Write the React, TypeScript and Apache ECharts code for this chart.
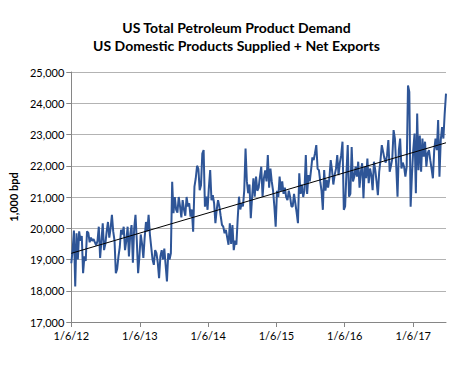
import React, { useEffect, useRef } from "react";
import * as echarts from "echarts";

const titleLines = ["US Total Petroleum Product Demand", "US Domestic Products Supplied + Net Exports"];
const yAxisName = "1,000 bpd";
const startDate = [2012, 0, 6];
const xTickDays = [0, 366, 731, 1096, 1461, 1827];
const demand = [
  18880, 19300, 19925, 18140, 19840, 19000, 19900, 19600, 19750, 18560,
  19100, 18950, 19900, 19850, 19550, 19700, 19600, 19650, 19550, 19450,
  19600, 20050, 19050, 19600, 20160, 19300, 19500, 19900, 20200, 19700,
  20000, 20430, 19900, 19600, 18560, 18700, 19100, 19400, 19950, 19800,
  20050, 19300, 19600, 20050, 19100, 19800, 20100, 18900, 20000, 20430,
  19600, 18560, 19100, 19800, 19500, 19050, 19700, 20200, 19900, 20430,
  19800, 19400, 19000, 18830, 19300, 19200, 18900, 18400, 19100, 19300,
  19000, 19350, 18830, 18300, 19200, 19000, 19200, 21490, 20480, 21000,
  20600, 20500, 21000, 20700, 20350, 20900, 20600, 20400, 21000, 20700,
  20800, 20370, 20600, 19890, 21330, 21600, 22000, 21900, 21220, 21380,
  22390, 22500, 20690, 21010, 20590, 21300, 21860, 20900, 21060, 20800,
  20160, 20600, 20900, 20700, 20400, 20110, 20050, 19840, 19950, 19700,
  19470, 20160, 19500, 20100, 19300, 19600, 19470, 20300, 21010, 20600,
  20800, 20700, 21200, 22550, 21500, 21120, 21400, 20320, 21000, 21600,
  21010, 21650, 21200, 21300, 21650, 21970, 21010, 21600, 21850, 21500,
  22340, 21300, 21910, 21500, 21200, 20700, 20050, 21200, 21000, 21650,
  21200, 21500, 21100, 21300, 21000, 20900, 21200, 21010, 20700, 20700,
  21100, 20800, 20500, 20160, 21760, 21100, 21400, 21000, 21220, 22340,
  21100, 21700, 21500, 21860, 22270, 22180, 22400, 22660, 21900, 21860,
  21500, 21200, 20590, 21860, 21200, 21550, 21300, 21600, 22180, 21860,
  21400, 21700, 21900, 22340, 21700, 22100, 22340, 22770, 20590, 20700,
  21760, 22660, 21010, 21100, 22600, 21500, 21650, 21970, 21650, 22130,
  21300, 21800, 22080, 20960, 21970, 21600, 22230, 21440, 21910, 21700,
  21220, 22130, 21860, 21500, 21060, 21800, 22180, 22660, 22450, 22230,
  22100, 22340, 22820, 21810, 22000, 22230, 23140, 22870, 22000, 21010,
  22500, 22870, 21910, 22100, 21970, 21650, 21970, 24570, 24360, 20690,
  21700, 22500, 23030, 21120, 23670, 21860, 22970, 21810, 22870, 22290,
  22770, 21970, 22400, 22500, 22180, 21900, 21600, 22500, 22870, 22500,
  23460, 21650, 22820, 23240, 22870, 23670, 24310,
];

function dayLabel(day: number): string {
  const d = new Date(startDate[0], startDate[1], startDate[2] + day);
  return `${d.getMonth() + 1}/${d.getDate()}/${String(d.getFullYear()).slice(2)}`;
}

export default function App() {
  const ref = useRef<HTMLDivElement>(null);
  useEffect(() => {
    if (!ref.current) return;
    const chart = echarts.init(ref.current, null, { renderer: "svg" });
    const pts = demand.map((v, i) => [i * 7, v]);
    const n = pts.length;
    const mx = pts.reduce((s, p) => s + p[0], 0) / n;
    const my = pts.reduce((s, p) => s + p[1], 0) / n;
    let sxy = 0, sxx = 0;
    pts.forEach((p) => { sxy += (p[0] - mx) * (p[1] - my); sxx += (p[0] - mx) ** 2; });
    const b = sxy / sxx;
    const a = my - b * mx;
    const lastDay = (n - 1) * 7;
    const font = "Lato, 'Liberation Sans', sans-serif";
    chart.setOption({
      animation: false,
      textStyle: { fontFamily: font },
      title: {
        text: titleLines.join("\n"),
        left: "center",
        top: 13,
        textStyle: { fontSize: 14, fontWeight: "bold", color: "#000", lineHeight: 18, fontFamily: font },
      },
      grid: { left: 70, right: 27, top: 72, bottom: 43, containLabel: false },
      xAxis: {
        type: "value",
        min: 0,
        max: lastDay,
        splitLine: { show: false },
        axisLine: { show: true, lineStyle: { color: "#868686" } },
        axisTick: { show: true, customValues: xTickDays, length: 5, lineStyle: { color: "#868686" } },
        axisLabel: {
          customValues: xTickDays,
          formatter: (v: number) => dayLabel(v),
          color: "#000",
          fontSize: 11,
          margin: 8,
        },
      },
      yAxis: {
        type: "value",
        min: 17000,
        max: 25000,
        interval: 1000,
        name: yAxisName,
        nameLocation: "middle",
        nameGap: 52,
        nameTextStyle: { fontWeight: "bold", fontSize: 11, color: "#000", fontFamily: font },
        axisLine: { show: true, lineStyle: { color: "#868686" } },
        axisTick: { show: true, length: 5, lineStyle: { color: "#868686" } },
        splitLine: { lineStyle: { color: "#b3b3b3", width: 1 } },
        axisLabel: {
          formatter: (v: number) => v.toLocaleString("en-US"),
          color: "#000",
          fontSize: 11,
          margin: 7,
        },
      },
      series: [
        {
          type: "line",
          data: pts,
          symbol: "none",
          lineStyle: { color: "#2E5597", width: 2 },
        },
        {
          type: "line",
          data: [[0, a], [lastDay, a + b * lastDay]],
          symbol: "none",
          lineStyle: { color: "#000", width: 1 },
        },
      ],
    });
    return () => chart.dispose();
  }, []);
  return <div ref={ref} style={{ position: "absolute", left: 0, top: 0, width: 473, height: 365 }} />;
}
